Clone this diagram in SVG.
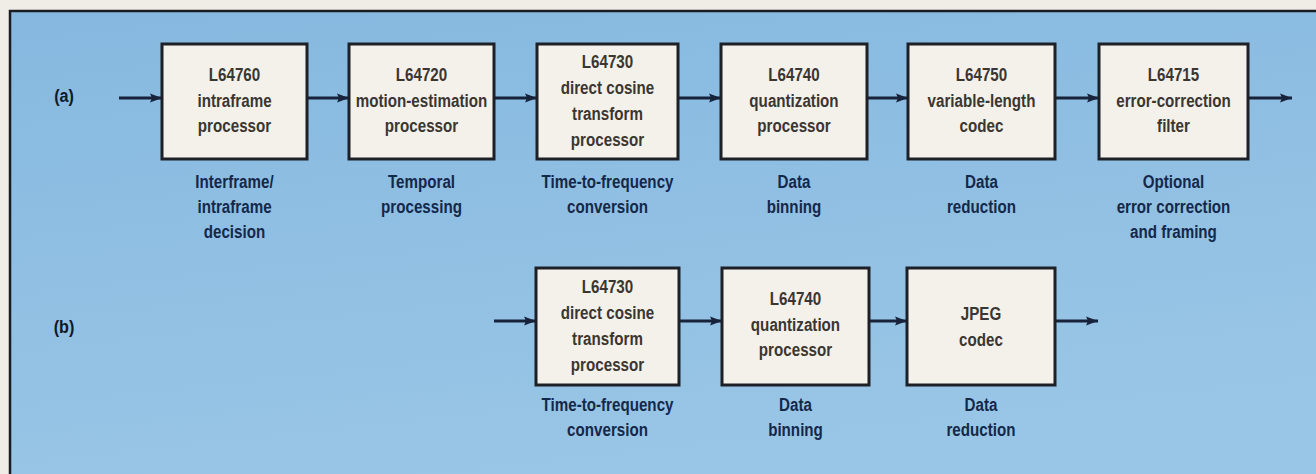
<svg xmlns="http://www.w3.org/2000/svg" width="1316" height="474" viewBox="0 0 1316 474">
<defs>
<linearGradient id="bg" x1="0" y1="0" x2="0.3" y2="1">
<stop offset="0" stop-color="#86b8df"/>
<stop offset="1" stop-color="#99c6e6"/>
</linearGradient>
<marker id="ah" markerUnits="userSpaceOnUse" markerWidth="12" markerHeight="10" refX="12" refY="5" orient="auto">
<path d="M0,0.5 L12,5 L0,9.5 L2,5 Z" fill="#17233a"/>
</marker>
</defs>
<style>
.box{fill:#f4f1eb;stroke:#1d2026;stroke-width:3}
text{font-family:"Liberation Sans",Arial,sans-serif;font-weight:bold;text-anchor:middle}
.bt{font-size:18.5px;fill:#3a3631}
.cap{font-size:18.5px;fill:#14284a}
.lab{font-size:19px;fill:#101828}
.conn{stroke:#17233a;stroke-width:3;fill:none;marker-end:url(#ah)}
</style>
<rect x="0" y="0" width="1316" height="474" fill="#efede6"/>
<rect x="10" y="11" width="1320" height="480" fill="url(#bg)" stroke="#1a1c22" stroke-width="2.5"/>
<g transform="translate(64 0) scale(0.85 1)"><text class="lab" x="0" y="102">(a)</text><text class="lab" x="0" y="333">(b)</text></g>
<g id="connectors">
<line class="conn" x1="119" y1="98" x2="162" y2="98"/>
<line class="conn" x1="307" y1="98" x2="349" y2="98"/>
<line class="conn" x1="494" y1="98" x2="537" y2="98"/>
<line class="conn" x1="678" y1="98" x2="721" y2="98"/>
<line class="conn" x1="867" y1="98" x2="908" y2="98"/>
<line class="conn" x1="1055" y1="98" x2="1099" y2="98"/>
<line class="conn" x1="1248" y1="98" x2="1292" y2="98"/>
<line class="conn" x1="494" y1="321" x2="536" y2="321"/>
<line class="conn" x1="679" y1="321" x2="722" y2="321"/>
<line class="conn" x1="869" y1="321" x2="907" y2="321"/>
<line class="conn" x1="1055" y1="321" x2="1098" y2="321"/>
</g>
<g id="a1">
<rect class="box" x="162" y="44" width="145" height="115"/>
<g transform="translate(234.5 0) scale(0.82 1)">
<text class="bt" x="0" y="81">L64760</text>
<text class="bt" x="0" y="107">intraframe</text>
<text class="bt" x="0" y="132">processor</text>
<text class="cap" x="0" y="188">Interframe/</text>
<text class="cap" x="0" y="213">intraframe</text>
<text class="cap" x="0" y="238">decision</text>
</g>
</g>
<g id="a2">
<rect class="box" x="349" y="44" width="145" height="115"/>
<g transform="translate(421.5 0) scale(0.82 1)">
<text class="bt" x="0" y="81">L64720</text>
<text class="bt" x="0" y="107">motion-estimation</text>
<text class="bt" x="0" y="132">processor</text>
<text class="cap" x="0" y="188">Temporal</text>
<text class="cap" x="0" y="213">processing</text>
</g>
</g>
<g id="a3">
<rect class="box" x="537" y="44" width="141" height="115"/>
<g transform="translate(607.5 0) scale(0.82 1)">
<text class="bt" x="0" y="68">L64730</text>
<text class="bt" x="0" y="94">direct cosine</text>
<text class="bt" x="0" y="120">transform</text>
<text class="bt" x="0" y="146">processor</text>
<text class="cap" x="0" y="188">Time-to-frequency</text>
<text class="cap" x="0" y="213">conversion</text>
</g>
</g>
<g id="a4">
<rect class="box" x="721" y="44" width="146" height="115"/>
<g transform="translate(794 0) scale(0.82 1)">
<text class="bt" x="0" y="81">L64740</text>
<text class="bt" x="0" y="107">quantization</text>
<text class="bt" x="0" y="132">processor</text>
<text class="cap" x="0" y="188">Data</text>
<text class="cap" x="0" y="213">binning</text>
</g>
</g>
<g id="a5">
<rect class="box" x="908" y="44" width="147" height="115"/>
<g transform="translate(981.5 0) scale(0.82 1)">
<text class="bt" x="0" y="81">L64750</text>
<text class="bt" x="0" y="107">variable-length</text>
<text class="bt" x="0" y="132">codec</text>
<text class="cap" x="0" y="188">Data</text>
<text class="cap" x="0" y="213">reduction</text>
</g>
</g>
<g id="a6">
<rect class="box" x="1099" y="44" width="149" height="115"/>
<g transform="translate(1173.5 0) scale(0.82 1)">
<text class="bt" x="0" y="81">L64715</text>
<text class="bt" x="0" y="107">error-correction</text>
<text class="bt" x="0" y="132">filter</text>
<text class="cap" x="0" y="188">Optional</text>
<text class="cap" x="0" y="213">error correction</text>
<text class="cap" x="0" y="238">and framing</text>
</g>
</g>
<g id="b1">
<rect class="box" x="536" y="268" width="143" height="117"/>
<g transform="translate(607.5 0) scale(0.82 1)">
<text class="bt" x="0" y="293">L64730</text>
<text class="bt" x="0" y="319">direct cosine</text>
<text class="bt" x="0" y="345">transform</text>
<text class="bt" x="0" y="371">processor</text>
<text class="cap" x="0" y="411">Time-to-frequency</text>
<text class="cap" x="0" y="436">conversion</text>
</g>
</g>
<g id="b2">
<rect class="box" x="722" y="268" width="147" height="117"/>
<g transform="translate(795.5 0) scale(0.82 1)">
<text class="bt" x="0" y="305">L64740</text>
<text class="bt" x="0" y="331">quantization</text>
<text class="bt" x="0" y="356">processor</text>
<text class="cap" x="0" y="411">Data</text>
<text class="cap" x="0" y="436">binning</text>
</g>
</g>
<g id="b3">
<rect class="box" x="907" y="268" width="148" height="117"/>
<g transform="translate(981 0) scale(0.82 1)">
<text class="bt" x="0" y="320">JPEG</text>
<text class="bt" x="0" y="346">codec</text>
<text class="cap" x="0" y="411">Data</text>
<text class="cap" x="0" y="436">reduction</text>
</g>
</g>
</svg>
